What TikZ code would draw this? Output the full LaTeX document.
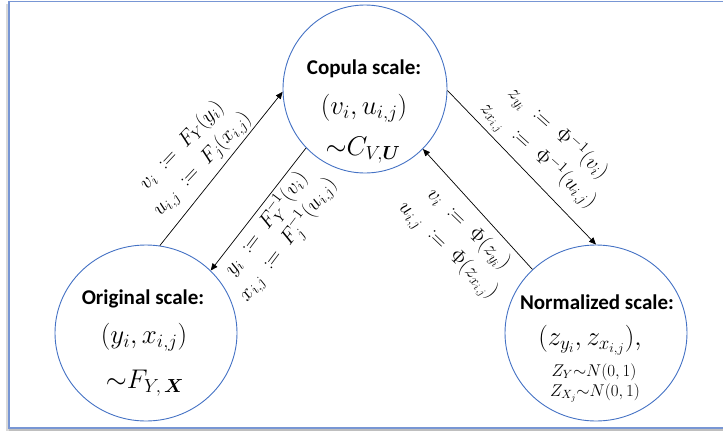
\RequirePackage{fix-cm}
\documentclass[tikz,border=0pt]{standalone}
\usepackage{amsmath,amssymb,mathtools}
\usepackage{fontspec}
\newfontfamily\carlito{Carlito}
\usetikzlibrary{shapes.geometric,arrows.meta}
\definecolor{circblue}{HTML}{4472C4}
\definecolor{frameblue}{HTML}{7896D4}
\newcommand{\ceq}{\mathrel{\;\coloneqq\;}}
\begin{document}
\begin{tikzpicture}[x=1pt,y=1pt,
  ell/.style={draw=circblue, line width=0.9pt, ellipse, inner sep=0pt},
  ttl/.style={font=\carlito\bfseries\fontsize{21}{25}\selectfont, inner sep=0pt},
  mth/.style={font=\fontsize{27}{31}\selectfont, inner sep=0pt},
  sml/.style={font=\fontsize{17}{20}\selectfont, inner sep=0pt},
  lbl/.style={font=\fontsize{21}{25}\selectfont, inner sep=0pt},
  arr/.style={draw=black, line width=0.7pt, -{Triangle[length=7pt,width=6pt]}}
]
\useasboundingbox (0,0) rectangle (723,-432);
% frame and shadow
\fill[gray!30] (6,-4) rectangle (9,-431);
\fill[gray!50] (9,-428) rectangle (723,-431);
\draw[frameblue, line width=1.2pt] (725,-1.5) -- (9,-1.5) -- (9,-428) -- (725,-428);

% scales
\node[ell, minimum width=164pt, minimum height=168pt] (cop) at (365,-89) {};
\node[ell, minimum width=182pt, minimum height=176pt] (orig) at (146,-333) {};
\node[ell, minimum width=182pt, minimum height=176pt] (norm) at (596,-333) {};

\node[ttl] (cop-t) at (364,-69) {Copula scale:};
\node[mth] (cop-m) at (364,-108) {$(v_i, u_{i,j})$};
\node[mth] (cop-d) at (363,-150) {${\sim}C_{V,\boldsymbol{U}}$};

\node[ttl] (orig-t) at (143,-299) {Original scale:};
\node[mth] (orig-m) at (144,-337) {$(y_i, x_{i,j})$};
\node[mth] (orig-d) at (145,-383) {${\sim}F_{Y,\,\boldsymbol{X}}$};

\node[ttl] (norm-t) at (597,-302) {Normalized scale:};
\node[mth] (norm-m) at (590,-340) {$(z_{y_i}, z_{x_{i,j}}),$};
\node[sml] (norm-d1) at (594,-372) {$Z_Y{\sim}N(0,1)$};
\node[sml] (norm-d2) at (595,-393) {$Z_{X_j}{\sim}N(0,1)$};

% connectors
\draw[arr] (orig.81) -- (cop.182);
\draw[arr] (cop.225) -- (orig.44);
\draw[arr] (norm.135) -- (cop.314);
\draw[arr] (cop.-1) -- (norm.90);

% labels
\begin{scope}[shift={(192,-155)}, rotate=47, transform shape]
  \node[lbl] (l1a) at (0,14) {$v_i \ceq F_Y(y_i)$};
  \node[lbl] (l1b) at (0,-14) {$u_{i,j} \ceq F_j(x_{i,j})$};
\end{scope}
\begin{scope}[shift={(277,-232)}, rotate=53, transform shape]
  \node[lbl] (l2a) at (0,14) {$y_i \ceq F_Y^{-1}(v_i)$};
  \node[lbl] (l2b) at (0,-14) {$x_{i,j} \ceq F_j^{-1}(u_{i,j})$};
\end{scope}
\begin{scope}[shift={(458,-240)}, rotate=-44, transform shape]
  \node[lbl] (l3a) at (0,15) {$v_i \ceq \Phi(z_{y_i})$};
  \node[lbl] (l3b) at (0,-15) {$u_{i,j} \ceq \Phi(z_{x_{i,j}})$};
\end{scope}
\begin{scope}[shift={(548,-144)}, rotate=-42, transform shape]
  \node[lbl] (l4a) at (0,15) {$z_{y_i} \ceq \Phi^{-1}(v_i)$};
  \node[lbl] (l4b) at (0,-15) {$z_{x_{i,j}} \ceq \Phi^{-1}(u_{i,j})$};
\end{scope}
\end{tikzpicture}
\end{document}
